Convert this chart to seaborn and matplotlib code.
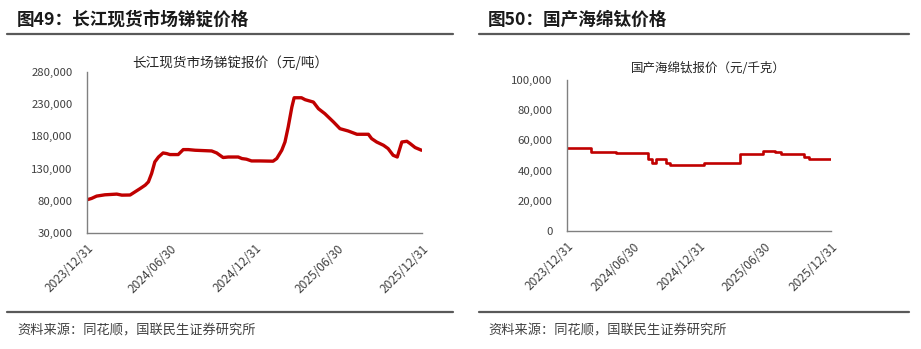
import matplotlib
matplotlib.use("Agg")
import matplotlib.pyplot as plt
import matplotlib.dates as mdates
from matplotlib.ticker import FuncFormatter
from matplotlib.lines import Line2D
import seaborn as sns
import pandas as pd

sns.set_theme(style="white")
plt.rcParams['font.family'] = ['Noto Sans CJK SC', 'DejaVu Sans']

# ---------------- data ----------------
sb_dates = ["2024-01-02", "2024-01-10", "2024-01-21", "2024-02-08", "2024-03-05", "2024-03-16",
            "2024-04-03", "2024-04-14", "2024-04-25", "2024-05-06", "2024-05-13", "2024-05-20",
            "2024-05-27", "2024-06-04", "2024-06-14", "2024-06-22", "2024-06-29", "2024-07-17",
            "2024-07-28", "2024-08-08", "2024-08-23", "2024-09-28", "2024-10-09", "2024-10-16",
            "2024-10-23", "2024-11-03", "2024-11-25", "2024-12-03", "2024-12-13", "2024-12-24",
            "2025-01-01", "2025-01-11", "2025-02-09", "2025-02-17", "2025-02-28", "2025-03-07",
            "2025-03-14", "2025-03-22", "2025-03-27", "2025-04-12", "2025-04-20", "2025-05-08",
            "2025-05-19", "2025-06-02", "2025-06-21", "2025-07-05", "2025-07-23", "2025-08-11",
            "2025-09-05", "2025-09-12", "2025-09-23", "2025-10-08", "2025-10-18", "2025-10-29",
            "2025-11-07", "2025-11-17", "2025-11-28", "2025-12-05", "2025-12-16", "2025-12-30"]
sb_values = [82000, 83700, 87300, 89300, 90400, 88800,
             89000, 94000, 99000, 104300, 109400, 122400,
             140400, 148000, 154300, 153300, 151800, 151800,
             159500, 159500, 158500, 157400, 154300, 150700,
             147200, 148000, 148000, 145600, 144600, 141900,
             141900, 141900, 141500, 145600, 158500, 171300,
             194500, 225500, 240000, 240000, 237000, 233300,
             223000, 215300, 202300, 192000, 188400, 183300,
             183300, 176600, 171300, 166200, 161100, 150700,
             148000, 171300, 172400, 168900, 162700, 158500]

ti_dates = ["2024-01-01", "2024-03-06", "2024-05-15", "2024-08-12", "2024-08-22", "2024-09-02",
            "2024-09-30", "2024-10-11", "2025-01-14", "2025-04-22", "2025-06-26", "2025-07-30",
            "2025-08-15", "2025-10-18", "2025-10-30", "2025-12-31"]
ti_values = [55000, 52500, 51500, 48000, 45000, 47500,
             45000, 44000, 45000, 51000, 53000, 52000,
             51000, 49300, 47500, 47500]

x_ticks = ["2023-12-31", "2024-06-30", "2024-12-31", "2025-06-30", "2025-12-31"]
sb_yticks = [30000, 80000, 130000, 180000, 230000, 280000]
ti_yticks = [0, 20000, 40000, 60000, 80000, 100000]

fig_titles = ["图49：长江现货市场锑锭价格", "图50：国产海绵钛价格"]
chart_titles = ["长江现货市场锑锭报价（元/吨）", "国产海绵钛报价（元/千克）"]
source = "资料来源：同花顺，国联民生证券研究所"

# ---------------- figure ----------------
W, H = 921, 349
fig = plt.figure(figsize=(W / 100, H / 100), dpi=100)

def fx(px):
    return px / W

def fy(py):
    return 1 - py / H

RED = "#C00000"
AX_COL = "#808080"
TXT = "#404040"

ax1 = fig.add_axes([fx(87), fy(233), fx(422 - 87), (233 - 72) / H])
ax2 = fig.add_axes([fx(567), fy(231), fx(831 - 567), (231 - 80) / H])

df1 = pd.DataFrame({"date": pd.to_datetime(sb_dates), "price": sb_values})
df2 = pd.DataFrame({"date": pd.to_datetime(ti_dates), "price": ti_values})

sns.lineplot(data=df1, x="date", y="price", ax=ax1, color=RED, linewidth=2.4)
sns.lineplot(data=df2, x="date", y="price", ax=ax2, color=RED, linewidth=1.9,
             drawstyle="steps-post")

xt = pd.to_datetime(x_ticks)
fmt = FuncFormatter(lambda v, p: f"{int(v):,}")
for ax, yt in ((ax1, sb_yticks), (ax2, ti_yticks)):
    ax.set_xlim(xt[0], xt[-1])
    ax.set_ylim(yt[0], yt[-1])
    ax.set_xticks(xt)
    ax.xaxis.set_major_formatter(mdates.DateFormatter("%Y/%m/%d"))
    ax.set_yticks(yt)
    ax.yaxis.set_major_formatter(fmt)
    ax.set_xlabel("")
    ax.set_ylabel("")
    for s in ("top", "right"):
        ax.spines[s].set_visible(False)
    for s in ("left", "bottom"):
        ax.spines[s].set_color(AX_COL)
        ax.spines[s].set_linewidth(1.0)
    ax.tick_params(axis="both", which="major", direction="out", length=3.5, width=1,
                   color=AX_COL, labelcolor=TXT)
    ax.tick_params(axis="y", pad=7, labelsize=8.2)
    ax.tick_params(axis="x", pad=3, labelsize=8.6)
    for lab in ax.get_xticklabels():
        lab.set_rotation(45)
        lab.set_ha("right")
        lab.set_va("top")
        lab.set_rotation_mode("anchor")
    ax.patch.set_alpha(0)

# chart inner titles
fig.text(fx(230), fy(63), chart_titles[0], ha="center", va="center", fontsize=9.8, color="#262626")
fig.text(fx(708), fy(68), chart_titles[1], ha="center", va="center", fontsize=9.0, color="#262626")

# figure titles
fig.text(fx(17), fy(20), fig_titles[0], ha="left", va="center", fontsize=12.7,
         fontweight="bold", color="#1a1a1a")
fig.text(fx(488), fy(20), fig_titles[1], ha="left", va="center", fontsize=12.7,
         fontweight="bold", color="#1a1a1a")

# separator lines
for (x0, x1) in ((7, 453), (479, 909)):
    for yy in (33.5, 312):
        fig.add_artist(Line2D([fx(x0), fx(x1)], [fy(yy), fy(yy)], color="#595959",
                              linewidth=1.6, transform=fig.transFigure))

# source text
fig.text(fx(17), fy(331), source, ha="left", va="center", fontsize=9.5, color=TXT)
fig.text(fx(488), fy(331), source, ha="left", va="center", fontsize=9.5, color=TXT)

fig.savefig("out.png", dpi=100)
